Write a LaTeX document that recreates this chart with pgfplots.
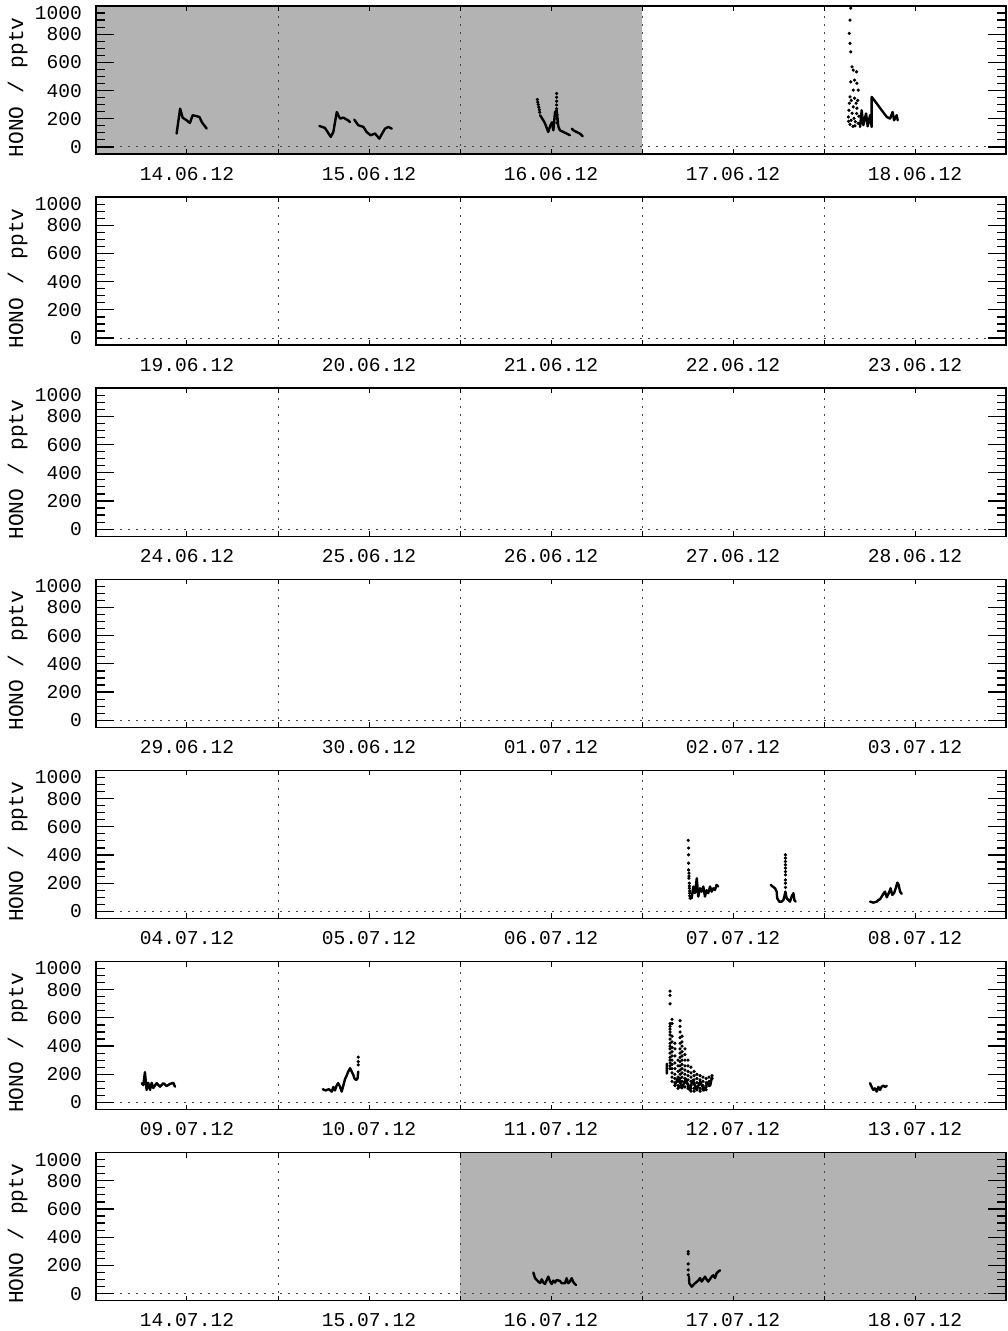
\documentclass[border=0pt]{standalone}
\usepackage{pgfplots}
\pgfplotsset{compat=1.18}
\usepackage{fontspec}
\setmainfont{Liberation Mono}
\definecolor{bg}{RGB}{179,179,179}
\definecolor{gl}{RGB}{70,70,70}
\pgfplotsset{
 panel/.style={
  scale only axis, width=455pt, height=74pt,
  xmin=0, xmax=5, ymin=-50, ymax=1000,
  anchor=north west,
  axis on top,
  axis line style={line width=0.7pt},
  xtick={0.5,1.5,2.5,3.5,4.5},
  minor xtick={1,2,3,4},
  ytick={0,200,400,600,800},
  extra y ticks={1000},
  extra y tick labels={1000},
  extra y tick style={yticklabel style={yshift=-3.5pt}},
  minor ytick={50,100,150,250,300,350,450,500,550,650,700,750,850,900,950},
  tick align=inside,
  major tick length=9pt, minor tick length=4.5pt,
  xtick style={black,line width=0.5pt,/pgfplots/major tick length=2.5pt,/pgfplots/minor tick length=2.5pt},
  ytick style={black,line width=0.6pt,/pgfplots/major tick length=9pt,/pgfplots/minor tick length=4.5pt},
  tick label style={font=\fontsize{9.8}{11}\selectfont},
  /pgf/number format/assume math mode=true,
  /pgf/number format/1000 sep={},
  ylabel={HONO / pptv},
  ylabel style={font=\fontsize{10.6}{12}\selectfont, at={(axis description cs:-0.086,0.45)}, anchor=center},
  yticklabel style={xshift=-3.5pt},
  xticklabel style={yshift=-3pt},
  unbounded coords=jump,
 },
 hono/.style={black, line width=1.2pt, line join=round, line cap=round, mark=none},
 dots/.style={black, only marks, mark=*, mark size=0.6pt},
}
\newcommand{\decor}{%
 \draw[gl, line width=0.5pt, dash pattern=on 1pt off 3pt] (axis cs:0,0) -- (axis cs:5,0);
 \draw[gl, line width=0.5pt, dash pattern=on 1pt off 3pt] (axis cs:1,-50) -- (axis cs:1,1000);
 \draw[gl, line width=0.5pt, dash pattern=on 1pt off 3pt] (axis cs:2,-50) -- (axis cs:2,1000);
 \draw[gl, line width=0.5pt, dash pattern=on 1pt off 3pt] (axis cs:3,-50) -- (axis cs:3,1000);
 \draw[gl, line width=0.5pt, dash pattern=on 1pt off 3pt] (axis cs:4,-50) -- (axis cs:4,1000);
}
\begin{document}
\begin{tikzpicture}
\useasboundingbox (-48pt,3pt) rectangle (455.5pt,-662.5pt);
% ---------- panel 1
\begin{axis}[panel, at={(0,0)}, xticklabels={14.06.12,15.06.12,16.06.12,17.06.12,18.06.12}]
\fill[bg] (axis cs:0,-50) rectangle (axis cs:3,1000);
\decor
\addplot[hono] coordinates {(0.443,95)(0.462,272)(0.476,208)(0.498,189)(0.516,170)(0.531,225)(0.553,218)(0.568,213)(0.581,177)(0.608,130)
 (1.0,nan)
 (1.227,149)(1.258,135)(1.290,71)(1.304,106)(1.323,248)(1.341,201)(1.359,208)(1.386,188)(1.396,176)
 (1.41,nan)
 (1.419,194)(1.441,154)(1.469,142)(1.487,106)(1.509,83)(1.533,95)(1.557,59)(1.570,90)(1.588,130)(1.606,142)(1.625,130)
 (2.0,nan)
 (2.440,225)(2.451,203)(2.467,168)(2.485,106)(2.495,147)(2.505,175)(2.513,118)(2.522,246)(2.531,260)(2.540,147)(2.549,118)(2.568,106)(2.586,95)(2.604,83)
 (2.61,nan)
 (2.614,130)(2.623,118)(2.641,106)(2.659,95)(2.674,75)
 (4.0,nan)
 (4.198,142)(4.207,260)(4.216,154)(4.231,237)(4.240,146)(4.253,225)(4.262,142)(4.262,355)(4.290,308)(4.317,260)(4.345,213)(4.363,201)(4.377,248)(4.385,189)(4.399,225)(4.405,189)};
\addplot[dots] coordinates {(2.425,336)(2.427,318)(2.430,300)(2.433,282)(2.436,264)(2.438,246)
 (2.531,379)(2.531,352)(2.531,325)(2.531,298)(2.531,271)(2.533,230)(2.533,200)(2.533,170)
 (4.147,985)(4.143,900)(4.139,806)(4.143,735)(4.147,675)(4.154,568)(4.161,545)(4.179,533)(4.168,474)(4.181,452)(4.147,462)(4.161,403)(4.188,403)(4.143,355)(4.168,346)(4.139,310)(4.161,284)(4.134,213)(4.149,189)(4.179,237)(4.188,168)(4.137,260)(4.154,239)(4.165,203)(4.181,275)(4.192,218)(4.135,182)(4.143,160)(4.159,146)(4.172,180)(4.176,310)(4.150,330)(4.185,330)(4.170,150)};
\end{axis}
% ---------- panel 2
\begin{axis}[panel, at={(0,-95.55pt)}, xticklabels={19.06.12,20.06.12,21.06.12,22.06.12,23.06.12}]
\decor
\end{axis}
% ---------- panel 3
\begin{axis}[panel, at={(0,-191.1pt)}, xticklabels={24.06.12,25.06.12,26.06.12,27.06.12,28.06.12}]
\decor
\end{axis}
% ---------- panel 4
\begin{axis}[panel, at={(0,-286.65pt)}, xticklabels={29.06.12,30.06.12,01.07.12,02.07.12,03.07.12}]
\decor
\end{axis}
% ---------- panel 5
\begin{axis}[panel, at={(0,-382.2pt)}, xticklabels={04.07.12,05.07.12,06.07.12,07.07.12,08.07.12}]
\decor
\addplot[hono] coordinates {(3.273,93)(3.282,176)(3.291,129)(3.301,235)(3.309,105)(3.319,164)(3.328,140)(3.337,176)(3.346,105)(3.355,150)(3.364,129)(3.374,176)(3.383,140)(3.392,164)(3.401,152)(3.410,188)(3.419,176)
 (3.5,nan)
 (3.707,188)(3.718,176)(3.731,164)(3.740,140)(3.743,93)(3.754,69)(3.767,69)(3.777,81)(3.782,105)(3.788,140)(3.795,93)(3.804,81)(3.813,69)(3.822,105)(3.832,129)(3.837,81)(3.844,69)
 (4.0,nan)
 (4.253,69)(4.271,62)(4.290,69)(4.299,81)(4.308,86)(4.317,105)(4.326,124)(4.335,140)(4.345,100)(4.354,124)(4.363,152)(4.366,164)(4.375,117)(4.385,129)(4.394,164)(4.403,204)(4.410,188)(4.418,140)(4.427,124)};
\addplot[dots] coordinates {(3.254,503)(3.256,449)(3.256,401)(3.256,342)(3.256,294)(3.258,271)(3.258,250)(3.258,235)(3.260,200)(3.260,180)(3.260,164)(3.262,145)(3.262,129)(3.262,110)(3.265,93)
 (3.788,401)(3.788,378)(3.788,354)(3.788,330)(3.788,307)(3.788,282)(3.788,259)(3.788,223)(3.788,200)(3.788,170)};
\end{axis}
% ---------- panel 6
\begin{axis}[panel, at={(0,-477.75pt)}, xticklabels={09.07.12,10.07.12,11.07.12,12.07.12,13.07.12}]
\decor
\addplot[hono] coordinates {(0.251,137)(0.260,124)(0.269,215)(0.278,89)(0.287,139)(0.297,89)(0.306,139)(0.315,103)(0.333,137)(0.352,112)(0.370,137)(0.388,117)(0.407,132)(0.425,139)(0.434,112)
 (1.0,nan)
 (1.246,94)(1.262,85)(1.279,94)(1.295,77)(1.304,110)(1.313,85)(1.322,120)(1.331,137)(1.341,110)(1.350,77)(1.359,120)(1.368,165)(1.377,190)(1.386,219)(1.396,243)(1.405,219)(1.414,195)(1.420,170)(1.430,160)(1.437,170)(1.441,219)
 (2.0,nan)
 (3.137,205)(3.137,275)
 (3.14,nan)
 (3.18,120)(3.20,180)(3.22,100)(3.24,170)(3.26,90)(3.28,160)(3.30,90)(3.32,150)(3.34,85)(3.36,140)(3.375,120)(3.385,185)
 (4.0,nan)
 (4.253,137)(4.262,110)(4.271,89)(4.280,100)(4.290,77)(4.299,110)(4.308,89)(4.317,112)(4.326,120)(4.335,110)(4.345,117)};
\addplot[dots] coordinates {(1.441,267)(1.441,290)(1.441,321)
 (3.154,790)(3.154,760)(3.154,700)(3.154,560)(3.154,540)(3.154,520)(3.154,500)(3.154,480)(3.154,450)(3.154,420)(3.154,400)(3.154,380)(3.154,350)(3.154,320)(3.154,300)(3.154,280)(3.154,260)(3.154,240)
 (3.165,590)(3.165,560)(3.165,470)(3.165,430)(3.165,390)(3.165,360)(3.165,330)(3.165,300)(3.165,270)(3.165,240)(3.165,210)(3.165,180)(3.165,150)
 (3.181,420)(3.181,380)(3.181,330)(3.181,280)(3.181,240)(3.181,200)(3.181,170)(3.181,140)(3.181,120)
 (3.198,300)(3.198,260)(3.198,220)(3.198,180)(3.198,150)(3.198,120)(3.198,100)
 (3.209,580)(3.209,540)(3.209,500)(3.209,460)(3.209,420)(3.209,380)(3.209,350)(3.209,320)(3.209,290)(3.209,260)(3.209,230)(3.209,200)(3.209,170)(3.209,140)(3.209,110)
 (3.220,470)(3.220,430)(3.220,400)(3.220,360)(3.220,330)(3.220,300)(3.220,270)(3.220,240)(3.220,210)(3.220,180)(3.220,150)(3.220,120)
 (3.236,380)(3.236,340)(3.236,300)(3.236,260)(3.236,230)(3.236,200)(3.236,170)(3.236,140)(3.236,110)
 (3.253,300)(3.253,260)(3.253,220)(3.253,190)(3.253,160)(3.253,130)(3.253,100)
 (3.269,250)(3.269,210)(3.269,180)(3.269,150)(3.269,120)(3.269,100)(3.269,80)
 (3.286,220)(3.286,190)(3.286,160)(3.286,130)(3.286,100)(3.286,80)
 (3.302,200)(3.302,170)(3.302,140)(3.302,110)(3.302,90)
 (3.319,190)(3.319,160)(3.319,130)(3.319,100)(3.319,80)
 (3.335,180)(3.335,150)(3.335,120)(3.335,90)
 (3.352,170)(3.352,140)(3.352,110)(3.352,90)
 (3.368,180)(3.368,150)(3.368,120)
 (3.385,190)(3.385,170)};
\end{axis}
% ---------- panel 7
\begin{axis}[panel, at={(0,-573.3pt)}, xticklabels={14.07.12,15.07.12,16.07.12,17.07.12,18.07.12}]
\fill[bg] (axis cs:2,-50) rectangle (axis cs:5,1000);
\decor
\addplot[hono] coordinates {(2.403,149)(2.412,110)(2.430,85)(2.440,75)(2.449,101)(2.458,78)(2.467,68)(2.485,120)(2.495,85)(2.504,68)(2.513,92)(2.522,78)(2.531,96)(2.549,90)(2.559,73)(2.577,73)(2.586,109)(2.595,73)(2.604,85)(2.614,109)(2.623,80)(2.637,61)
 (3.0,nan)
 (3.258,120)(3.260,73)(3.273,49)(3.291,73)(3.309,92)(3.319,110)(3.328,85)(3.346,120)(3.355,100)(3.364,85)(3.383,120)(3.392,130)(3.401,110)(3.410,144)(3.419,156)(3.429,165)};
\addplot[dots] coordinates {(3.254,298)(3.254,281)(3.254,210)(3.254,168)(3.254,132)};
\end{axis}
\end{tikzpicture}
\end{document}
